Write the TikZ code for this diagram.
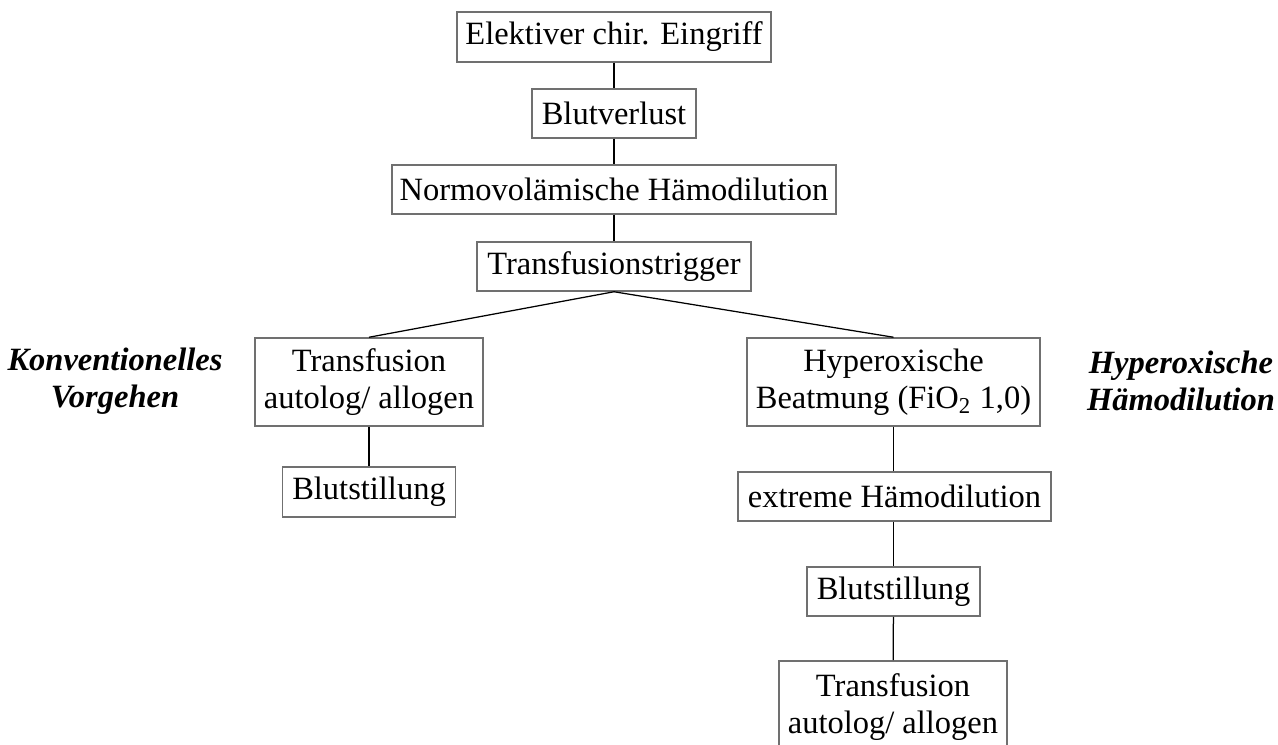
\documentclass[tikz,border=0pt]{standalone}
\usepackage{fontspec}
\setmainfont{Liberation Serif}
\usetikzlibrary{positioning}
\definecolor{boxgray}{HTML}{707070}

\begin{document}
\begin{tikzpicture}[x=0.4pt,y=-0.4pt,
    stepbox/.style={draw=boxgray,line width=0.6pt,align=center,inner sep=1pt,minimum height=20pt,font=\fontsize{13}{14.8}\selectfont},
    twoline/.style={stepbox,minimum height=35.2pt},
    sidelabel/.style={align=center,font=\fontsize{13}{14.8}\selectfont\bfseries\itshape},
    link/.style={draw=black,line width=0.5pt}]
  \useasboundingbox (0,0) rectangle (1278,745);
  % main chain
  \node[stepbox,minimum width=125.6pt] (eingriff) at (614,37) {Elektiver chir. Eingriff};
  \node[stepbox,minimum width=65.6pt,minimum height=19.6pt] (verlust) at (614,113.5) {Blutverlust};
  \node[stepbox,minimum width=177.6pt,minimum height=19.6pt] (normo) at (614,189.5) {Normovolämische Hämodilution};
  \node[stepbox,minimum width=109.6pt,minimum height=19.6pt] (trigger) at (614,266.5) {Transfusionstrigger};
  % left branch
  \node[twoline,minimum width=91.2pt] (transL) at (369,382) {Transfusion\\autolog/ allogen};
  \node[stepbox,minimum width=69.2pt] (stillL) at (369,492) {Blutstillung};
  % right branch
  \node[twoline,minimum width=117.2pt] (hyper) at (893.5,382) {Hyperoxische\\Beatmung (FiO\textsubscript{2} 1,0)};
  \node[stepbox,minimum width=125.2pt,minimum height=19.6pt] (extrem) at (894.5,496.5) {extreme Hämodilution};
  \node[stepbox,minimum width=69.2pt,minimum height=19.6pt] (stillR) at (893.5,591.5) {Blutstillung};
  \node[twoline,minimum width=91.2pt,minimum height=37pt] (transR) at (893,707) {Transfusion\\autolog/ allogen};
  % side labels
  \node[sidelabel] (konv) at (115,381) {Konventionelles\\Vorgehen};
  \node[sidelabel] (hypdil) at (1181,381) {Hyperoxische\\Hämodilution};
  % connectors
  \draw[link] (eingriff) -- (verlust);
  \draw[link] (verlust) -- (normo);
  \draw[link] (normo) -- (trigger);
  \draw[link] (trigger.south) -- (transL.north);
  \draw[link] (trigger.south) -- (hyper.north);
  \draw[link] (transL) -- (stillL);
  \draw[link] (hyper) -- (extrem.north -| hyper.south);
  \draw[link] (extrem.south -| stillR.north) -- (stillR);
  \draw[link] (stillR) -- (transR);
\end{tikzpicture}
\end{document}
